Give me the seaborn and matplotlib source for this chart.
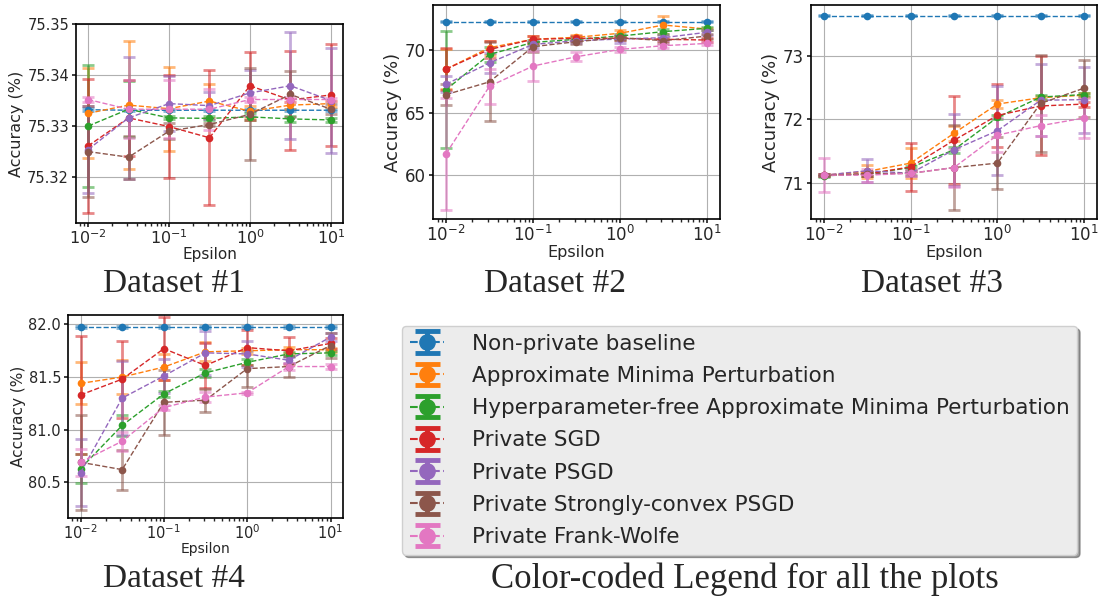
import numpy as np
import pandas as pd
import matplotlib
matplotlib.use("Agg")
import matplotlib.pyplot as plt
from matplotlib.ticker import MultipleLocator, FormatStrFormatter
import seaborn as sns

eps = [0.01, 0.0316, 0.1, 0.316, 1.0, 3.16, 10.0]
methods = ["Non-private baseline", "Approximate Minima Perturbation",
           "Hyperparameter-free Approximate Minima Perturbation", "Private SGD",
           "Private PSGD", "Private Strongly-convex PSGD", "Private Frank-Wolfe"]

# Dataset #1
d1_base = [75.3332, 75.3331, 75.3331, 75.3331, 75.3331, 75.3331, 75.3331]
d1_base_err = [0.0003, 0.0002, 0.0002, 0.0002, 0.0002, 0.0002, 0.0002]
d1_amp = [75.3325, 75.3341, 75.3334, 75.3349, 75.3329, 75.3341, 75.3344]
d1_amp_err = [0.0088, 0.0125, 0.0082, 0.0034, 0.0011, 0.0007, 0.0006]
d1_hf = [75.3300, 75.3333, 75.3316, 75.3315, 75.3318, 75.3314, 75.3312]
d1_hf_err = [0.0120, 0.0055, 0.0003, 0.0004, 0.0007, 0.0006, 0.0004]
d1_sgd = [75.3261, 75.3316, 75.3299, 75.3277, 75.3379, 75.3351, 75.3361]
d1_sgd_err = [0.0131, 0.0075, 0.0101, 0.0132, 0.0067, 0.0097, 0.0100]
d1_psgd = [75.3254, 75.3316, 75.3344, 75.3340, 75.3365, 75.3379, 75.3350]
d1_psgd_err = [0.0085, 0.0120, 0.0054, 0.0026, 0.0045, 0.0105, 0.0102]
d1_sc = [75.3250, 75.3239, 75.3290, 75.3303, 75.3323, 75.3362, 75.3333]
d1_sc_err = [0.0090, 0.0042, 0.0016, 0.0003, 0.0090, 0.0045, 0.0010]
d1_fw = [75.3352, 75.3333, 75.3333, 75.3333, 75.3352, 75.3352, 75.3352]
d1_fw_err = [0.0005, 0.0057, 0.0057, 0.0040, 0.0005, 0.0005, 0.0003]

# Dataset #2
d2_base = [72.27, 72.27, 72.27, 72.27, 72.27, 72.27, 72.27]
d2_base_err = [0.05, 0.05, 0.05, 0.05, 0.05, 0.05, 0.05]
d2_amp = [68.48, 70.19, 70.86, 71.02, 71.34, 72.00, 71.68]
d2_amp_err = [1.57, 0.56, 0.30, 0.15, 0.30, 0.73, 0.10]
d2_hf = [66.84, 69.65, 70.61, 70.86, 71.12, 71.47, 71.74]
d2_hf_err = [4.66, 0.60, 0.20, 0.15, 0.20, 0.20, 0.10]
d2_sgd = [68.48, 70.05, 70.86, 70.94, 70.94, 70.86, 70.80]
d2_sgd_err = [1.65, 0.70, 0.30, 0.20, 0.15, 0.10, 0.15]
d2_psgd = [67.27, 68.98, 70.45, 70.75, 70.88, 70.99, 71.42]
d2_psgd_err = [0.64, 0.80, 0.25, 0.15, 0.30, 0.20, 0.20]
d2_sc = [66.44, 67.46, 70.27, 70.67, 70.99, 70.75, 71.12]
d2_sc_err = [0.85, 3.15, 0.40, 0.15, 0.15, 0.15, 0.20]
d2_fw = [61.71, 67.11, 68.72, 69.47, 70.05, 70.35, 70.53]
d2_fw_err = [4.49, 1.40, 1.17, 0.35, 0.20, 0.15, 0.15]

# Dataset #3
d3_base = [73.63, 73.63, 73.63, 73.63, 73.63, 73.63, 73.63]
d3_base_err = [0.01, 0.01, 0.01, 0.01, 0.01, 0.01, 0.01]
d3_amp = [71.12, 71.18, 71.31, 71.78, 72.24, 72.34, 72.38]
d3_amp_err = [0.02, 0.10, 0.24, 0.12, 0.06, 0.03, 0.03]
d3_hf = [71.11, 71.14, 71.24, 71.52, 72.03, 72.35, 72.39]
d3_hf_err = [0.02, 0.03, 0.03, 0.05, 0.03, 0.03, 0.03]
d3_sgd = [71.12, 71.14, 71.25, 71.67, 72.06, 72.21, 72.24]
d3_sgd_err = [0.02, 0.03, 0.38, 0.69, 0.49, 0.78, 0.04]
d3_psgd = [71.12, 71.19, 71.15, 71.52, 71.82, 72.30, 72.31]
d3_psgd_err = [0.02, 0.18, 0.05, 0.57, 0.70, 0.57, 0.52]
d3_sc = [71.12, 71.14, 71.15, 71.24, 71.31, 72.25, 72.49]
d3_sc_err = [0.02, 0.03, 0.03, 0.67, 0.41, 0.77, 0.45]
d3_fw = [71.12, 71.12, 71.15, 71.24, 71.75, 71.90, 72.02]
d3_fw_err = [0.27, 0.10, 0.05, 0.30, 0.27, 0.17, 0.32]

# Dataset #4
d4_base = [81.98, 81.98, 81.98, 81.98, 81.98, 81.98, 81.98]
d4_base_err = [0.01, 0.01, 0.01, 0.01, 0.01, 0.01, 0.01]
d4_amp = [81.44, 81.50, 81.595, 81.74, 81.75, 81.76, 81.76]
d4_amp_err = [0.20, 0.16, 0.12, 0.09, 0.03, 0.03, 0.02]
d4_hf = [80.63, 81.04, 81.34, 81.54, 81.64, 81.72, 81.73]
d4_hf_err = [0.135, 0.10, 0.03, 0.04, 0.03, 0.02, 0.02]
d4_sgd = [81.33, 81.48, 81.77, 81.61, 81.78, 81.75, 81.82]
d4_sgd_err = [0.56, 0.365, 0.30, 0.21, 0.17, 0.13, 0.05]
d4_psgd = [80.59, 81.30, 81.51, 81.73, 81.72, 81.66, 81.88]
d4_psgd_err = [0.32, 0.35, 0.16, 0.21, 0.125, 0.03, 0.04]
d4_sc = [80.69, 80.62, 81.26, 81.28, 81.58, 81.60, 81.80]
d4_sc_err = [0.45, 0.19, 0.31, 0.11, 0.17, 0.10, 0.12]
d4_fw = [80.69, 80.89, 81.21, 81.31, 81.35, 81.60, 81.60]
d4_fw_err = [0.13, 0.09, 0.02, 0.05, 0.01, 0.03, 0.02]

datasets = [
    ([d1_base, d1_amp, d1_hf, d1_sgd, d1_psgd, d1_sc, d1_fw],
     [d1_base_err, d1_amp_err, d1_hf_err, d1_sgd_err, d1_psgd_err, d1_sc_err, d1_fw_err]),
    ([d2_base, d2_amp, d2_hf, d2_sgd, d2_psgd, d2_sc, d2_fw],
     [d2_base_err, d2_amp_err, d2_hf_err, d2_sgd_err, d2_psgd_err, d2_sc_err, d2_fw_err]),
    ([d3_base, d3_amp, d3_hf, d3_sgd, d3_psgd, d3_sc, d3_fw],
     [d3_base_err, d3_amp_err, d3_hf_err, d3_sgd_err, d3_psgd_err, d3_sc_err, d3_fw_err]),
    ([d4_base, d4_amp, d4_hf, d4_sgd, d4_psgd, d4_sc, d4_fw],
     [d4_base_err, d4_amp_err, d4_hf_err, d4_sgd_err, d4_psgd_err, d4_sc_err, d4_fw_err]),
]
captions = ["Dataset #1", "Dataset #2", "Dataset #3", "Dataset #4"]
legend_caption = "Color-coded Legend for all the plots"

sns.set_theme(style="ticks")
plt.rcParams['font.family'] = ['DejaVu Sans']
palette = sns.color_palette("tab10", len(methods))

W, H = 1103, 601
fig = plt.figure(figsize=(W / 100, H / 100), dpi=100)

def box(l, r, t, b):
    return [l / W, 1 - b / H, (r - l) / W, (b - t) / H]

panel_boxes = [box(76, 343, 24, 223), box(433, 720, 5, 219),
               box(811, 1097, 5, 219), box(68, 343, 315, 518)]
ylims = [(75.311, 75.350), (56.5, 73.6), (70.43, 73.80), (80.16, 82.09)]
ysteps = [0.01, 5, 1, 0.5]
yfmts = ['%.2f', '%d', '%d', '%.1f']
ytick_fs = [10.5, 12, 12, 10.5]
xtick_fs = [11.5, 12, 12, 10.5]
xlab_fs = [11, 11.5, 11.5, 10]
ylab_fs = [11.5, 13, 13, 11]

for i, (means, errs) in enumerate(datasets):
    ax = fig.add_axes(panel_boxes[i])
    rows = []
    for m, vals in zip(methods, means):
        for e, v in zip(eps, vals):
            rows.append({"eps": e, "acc": v, "method": m})
    df = pd.DataFrame(rows)
    for j, (m, vals, er) in enumerate(zip(methods, means, errs)):
        ax.errorbar(eps, vals, yerr=er, fmt='none', ecolor=palette[j],
                    alpha=0.55, elinewidth=2, capsize=4, capthick=2, zorder=2)
    sns.lineplot(data=df, x="eps", y="acc", hue="method", hue_order=methods,
                 palette=palette, marker='o', markersize=5.5, markeredgewidth=0,
                 linestyle='--', linewidth=1.0, errorbar=None, legend=False,
                 ax=ax, zorder=3)
    ax.set_xscale('log')
    ax.set_xlim(10 ** -2.15, 10 ** 1.15)
    ax.set_ylim(*ylims[i])
    ax.yaxis.set_major_locator(MultipleLocator(ysteps[i]))
    ax.yaxis.set_major_formatter(FormatStrFormatter(yfmts[i]))
    ax.grid(True, which='major', color='#b0b0b0', linewidth=0.8)
    ax.tick_params(axis='y', labelsize=ytick_fs[i], direction='out', length=3, pad=2)
    ax.tick_params(axis='x', which='major', labelsize=xtick_fs[i], direction='out',
                   length=3, pad=1)
    ax.tick_params(axis='x', which='minor', direction='out', length=2)
    ax.set_xlabel("Epsilon", fontsize=xlab_fs[i], labelpad=0)
    ax.set_ylabel("Accuracy (%)", fontsize=ylab_fs[i], labelpad=2)
    for s in ax.spines.values():
        s.set_color('black')
        s.set_linewidth(1.2)

# Legend built from errorbar handles (drawn on an axes outside the view)
hax = fig.add_axes([0, 0, 0.01, 0.01])
handles = []
for j, m in enumerate(methods):
    h = hax.errorbar([1], [1], yerr=[0.5], color=palette[j], marker='o', markersize=11,
                     linestyle='--', linewidth=1.5, elinewidth=3.5, capsize=9, capthick=3.5,
                     label=m)
    handles.append(h)
hax.set_xlim(5, 6)
hax.set_ylim(5, 6)
hax.set_axis_off()
leg = fig.legend(handles=handles, labels=methods, loc='upper left',
                 bbox_to_anchor=(402 / W, 1 - 326 / H), borderaxespad=0,
                 fontsize=15.5, frameon=True, facecolor='#ececec', edgecolor='#cfcfcf',
                 framealpha=1, shadow=True, fancybox=True, handlelength=1.6,
                 handletextpad=1.3, labelspacing=0.57, borderpad=0.35)

serif = ['Liberation Serif', 'DejaVu Serif']
fig.text(174 / W, 1 - 284 / H, captions[0], ha='center', va='center', fontsize=24, family=serif)
fig.text(555 / W, 1 - 284 / H, captions[1], ha='center', va='center', fontsize=24, family=serif)
fig.text(932 / W, 1 - 284 / H, captions[2], ha='center', va='center', fontsize=24, family=serif)
fig.text(174 / W, 1 - 579 / H, captions[3], ha='center', va='center', fontsize=24, family=serif)
fig.text(745 / W, 1 - 579 / H, legend_caption, ha='center', va='center', fontsize=25, family=serif)

fig.savefig("out.png", dpi=100)
